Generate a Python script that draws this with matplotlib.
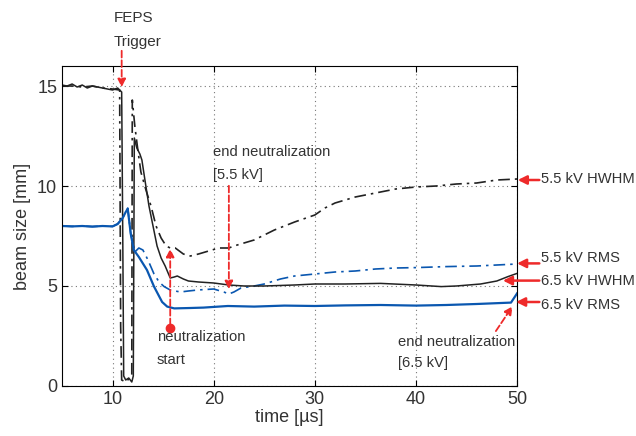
import matplotlib.pyplot as plt

plt.rcParams['font.family'] = ['Liberation Sans', 'DejaVu Sans']

red = '#ee2a2a'
blue = '#0a57b0'
txt = '#333333'

# 6.5 kV HWHM (black solid)
t_hw65 = [5, 5.5, 6, 6.5, 7, 7.5, 8, 8.5, 9, 9.5, 10, 10.5, 10.9, 11.0, 11.1, 11.3, 11.6,
          11.9, 12.05, 12.15, 12.4, 12.7, 12.9, 13.2, 13.6, 14.0, 14.4, 14.8, 15.2, 15.7,
          16.1, 16.4, 17.0, 17.5, 18.5, 20, 21.5, 23, 25, 28, 30, 33, 36.5, 40, 42.5,
          44, 46.4, 48, 49.1, 50]
hw65 = [15.05, 15.0, 15.1, 14.95, 15.05, 14.9, 15.0, 14.95, 14.9, 14.85, 14.8, 14.9, 14.7,
        8.0, 0.5, 0.3, 0.4, 0.2, 0.5, 12.4, 11.9, 11.6, 11.3, 10.3, 9.0, 8.0, 7.0, 6.4, 6.0,
        5.4, 5.45, 5.5, 5.35, 5.25, 5.2, 5.15, 5.05, 5.0, 5.0, 5.05, 5.1, 5.1, 5.13, 5.05,
        4.97, 5.0, 5.1, 5.25, 5.47, 5.63]

# 5.5 kV HWHM (black dash-dot)
t_hw55 = [5, 6, 7, 8, 9, 10, 10.7, 10.8, 10.9, 11.3, 11.7, 11.9, 11.95, 12.2, 12.5, 12.8,
          13.3, 13.8, 14.3, 14.8, 15.3, 15.7, 16.2, 17.0, 17.7, 18.5, 19.5, 20.5, 21.5, 22,
          24, 26, 28, 30, 31, 32, 33, 34, 35, 36, 38, 40, 42, 44, 46, 48, 50]
hw55 = [15.0, 15.0, 14.95, 15.0, 14.9, 14.85, 14.8, 3.0, 0.3, 0.2, 0.4, 0.5, 14.3, 13.0,
        11.8, 10.7, 9.8, 9.0, 8.0, 7.4, 7.0, 6.9, 6.9, 6.6, 6.5, 6.6, 6.75, 6.9, 6.9, 7.0,
        7.3, 7.8, 8.2, 8.55, 8.9, 9.15, 9.3, 9.45, 9.55, 9.65, 9.85, 9.95, 10.0, 10.1,
        10.15, 10.3, 10.35]

# 6.5 kV RMS (blue solid)
t_rms65 = [5, 6, 7, 8, 9, 10, 10.5, 11.0, 11.3, 11.5, 11.8, 12.1, 12.6, 13.4, 14.1, 14.9,
           15.4, 16.1, 17.7, 19, 21.4, 24, 27, 30, 33, 36.5, 40, 43, 46, 49.4, 50]
rms65 = [8.0, 7.98, 8.0, 7.97, 8.0, 7.98, 8.1, 8.4, 8.7, 8.85, 7.6, 6.8, 6.45, 5.8, 4.97,
         4.2, 3.97, 3.88, 3.9, 3.92, 4.0, 3.97, 4.02, 4.0, 4.03, 4.05, 4.02, 4.05, 4.1,
         4.17, 4.63]

# 5.5 kV RMS (blue dash-dot)
t_rms55 = [5, 6, 7, 8, 9, 10, 10.5, 11.0, 11.5, 11.8, 12.2, 12.6, 13.0, 13.5, 14.1, 14.6,
           15.1, 15.7, 16.7, 17.5, 18.4, 20, 21, 21.5, 22, 22.7, 24, 25, 26.6, 28, 30, 32,
           34, 36, 38, 40, 43, 46, 48, 50]
rms55 = [8.0, 7.98, 8.0, 7.97, 8.0, 7.98, 8.1, 8.4, 8.9, 7.6, 6.7, 6.9, 6.8, 6.3, 5.6, 5.2,
         4.97, 4.8, 4.7, 4.75, 4.8, 4.85, 4.7, 4.6, 4.7, 4.9, 5.0, 5.1, 5.35, 5.5, 5.6, 5.7,
         5.75, 5.85, 5.9, 5.92, 5.97, 6.0, 6.05, 6.1]

fig = plt.figure(figsize=(6.36, 4.36), dpi=100)
ax = fig.add_axes([0.0975, 0.1147, 0.7155, 0.7339])

ax.plot(t_hw55, hw55, color='#222222', lw=1.2, dashes=(7, 3, 1.5, 3))
ax.plot(t_rms55, rms55, color=blue, lw=1.2, dashes=(7, 3, 1.5, 3))
ax.plot(t_hw65, hw65, color='#222222', lw=1.1)
ax.plot(t_rms65, rms65, color=blue, lw=1.6)

ax.set_xlim(5, 50)
ax.set_ylim(0, 16)
ax.set_xticks([10, 20, 30, 40, 50])
ax.set_yticks([0, 5, 10, 15])
ax.tick_params(direction='in', length=4, labelsize=13, top=True, right=True,
               labelcolor=txt)
ax.grid(True, linestyle=(0, (1, 3)), color='#777777', lw=0.8)
ax.set_xlabel('time [µs]', fontsize=13, labelpad=1, color=txt)
ax.set_ylabel('beam size [mm]', fontsize=13, labelpad=4, color=txt)

# FEPS trigger
ax.text(10.1, 18.4, 'FEPS', fontsize=11, color=txt, va='center', clip_on=False)
ax.text(10.1, 17.2, 'Trigger', fontsize=11, color=txt, va='center', clip_on=False)
ax.annotate('', xy=(10.9, 14.8), xytext=(10.9, 16.9), annotation_clip=False,
            arrowprops=dict(arrowstyle='-|>', color=red, lw=1.3, ls='--', mutation_scale=12))

# end neutralization 5.5 kV
ax.text(19.9, 11.7, 'end neutralization', fontsize=10.6, color=txt, va='center')
ax.text(19.9, 10.55, '[5.5 kV]', fontsize=10.6, color=txt, va='center')
ax.annotate('', xy=(21.5, 4.7), xytext=(21.5, 10.15),
            arrowprops=dict(arrowstyle='-|>', color=red, lw=1.3, ls='--', mutation_scale=12))

# neutralization start
ax.text(14.36, 2.47, 'neutralization', fontsize=10.6, color=txt, va='center')
ax.text(14.36, 1.3, 'start', fontsize=10.6, color=txt, va='center')
ax.plot([15.7], [2.9], 'o', color=red, ms=6)
ax.annotate('', xy=(15.7, 7.0), xytext=(15.7, 2.9),
            arrowprops=dict(arrowstyle='-|>', color=red, lw=1.3, ls='--', mutation_scale=12))

# end neutralization 6.5 kV
ax.text(38.2, 2.2, 'end neutralization', fontsize=10.6, color=txt, va='center')
ax.text(38.2, 1.13, '[6.5 kV]', fontsize=10.6, color=txt, va='center')
ax.annotate('', xy=(49.7, 4.1), xytext=(47.75, 2.63),
            arrowprops=dict(arrowstyle='-|>', color=red, lw=1.3, ls='--', mutation_scale=12))

# curve labels on the right
labels = ['5.5 kV HWHM', '5.5 kV RMS', '6.5 kV HWHM', '6.5 kV RMS']
label_y = [10.35, 6.4, 5.27, 4.05]
arrow_y = [10.3, 6.13, 5.27, 4.2]
arrow_tip = [50.07, 50.0, 48.6, 49.9]
for lab, ly, ay, tip in zip(labels, label_y, arrow_y, arrow_tip):
    ax.annotate('', xy=(tip, ay), xytext=(52.2, ay), annotation_clip=False,
                arrowprops=dict(arrowstyle='-|>', color=red, lw=1.8, mutation_scale=13,
                                shrinkA=0, shrinkB=0))
    ax.text(52.4, ly, lab, fontsize=10.6, color=txt, va='center', clip_on=False)

plt.savefig('out.png', dpi=100)
